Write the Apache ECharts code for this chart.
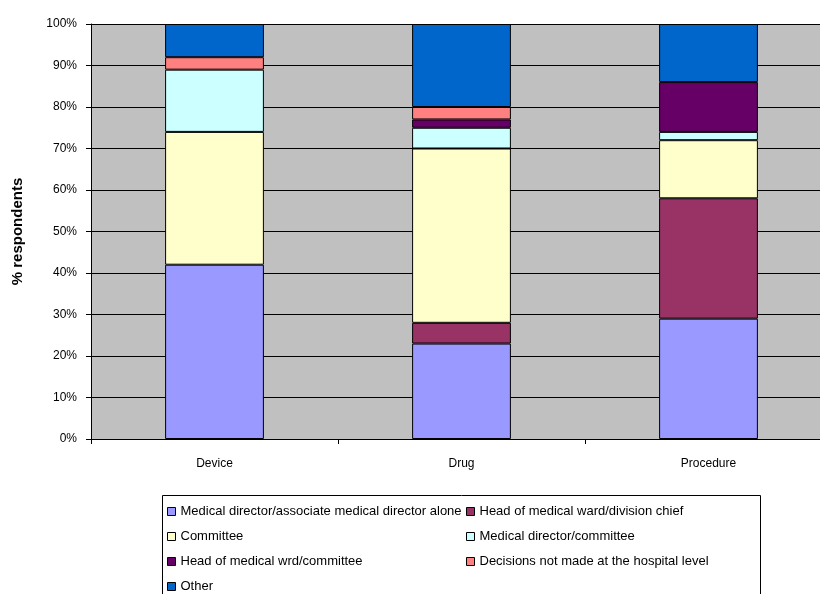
<!DOCTYPE html>
<html>
<head>
<meta charset="utf-8">
<script src="https://cdn.jsdelivr.net/npm/echarts@6/dist/echarts.min.js"></script>
<style>
html,body{margin:0;padding:0;background:#fff;}
#c{width:820px;height:594px;}
</style>
</head>
<body>
<div id="c"></div>
<script>
var categories = ['Device', 'Drug', 'Procedure'];
var seriesNames = [
  'Medical director/associate medical director alone',
  'Head of medical ward/division chief',
  'Committee',
  'Medical director/committee',
  'Head of medical wrd/committee',
  'Decisions not made at the hospital level',
  'Other'
];
var mdAlone = [42, 23, 29];
var headWard = [0, 5, 29];
var committee = [32, 42, 14];
var mdCommittee = [15, 5, 2];
var headCommittee = [0, 2, 12];
var notHospital = [3, 3, 0];
var other = [8, 20, 14];
var yTicks = [0, 10, 20, 30, 40, 50, 60, 70, 80, 90, 100];

var colors = ['#9999FF', '#993366', '#FFFFCC', '#CCFFFF', '#660066', '#FF8080', '#0066CC'];
var values = [mdAlone, headWard, committee, mdCommittee, headCommittee, notHospital, other];

var series = seriesNames.map(function (n, i) {
  return {
    name: n,
    type: 'bar',
    stack: 'total',
    barWidth: '40%',
    data: values[i].map(function (v) { return v === 0 ? '-' : v; }),
    itemStyle: { color: colors[i], borderColor: '#000', borderWidth: 1 },
    emphasis: { disabled: true }
  };
});

var legendText = { fontFamily: 'Liberation Sans', fontSize: 13, color: '#000' };
function mkLegend(left, top, names) {
  return {
    orient: 'vertical',
    left: left,
    top: top,
    itemWidth: 8,
    itemHeight: 8,
    itemGap: 12,
    icon: 'rect',
    itemStyle: { borderColor: '#000', borderWidth: 1 },
    textStyle: legendText,
    selectedMode: false,
    padding: 0,
    data: names
  };
}

var chart = echarts.init(document.getElementById('c'), null, { renderer: 'canvas' });
chart.setOption({
  animation: false,
  color: colors,
  textStyle: { fontFamily: 'Liberation Sans' },
  grid: {
    left: 91, width: 741, top: 24, height: 415,
    outerBoundsMode: 'none', containLabel: false,
    show: true, backgroundColor: '#C0C0C0', borderWidth: 0
  },
  xAxis: {
    type: 'category',
    data: categories,
    axisLine: { show: true, lineStyle: { color: '#000', width: 1 } },
    axisTick: { show: true, alignWithLabel: false, length: 5, lineStyle: { color: '#000' } },
    axisLabel: { fontSize: 12, color: '#000', margin: 19, fontFamily: 'Liberation Sans' }
  },
  yAxis: {
    type: 'value',
    min: yTicks[0],
    max: yTicks[yTicks.length - 1],
    interval: 10,
    name: '% respondents',
    nameLocation: 'middle',
    nameGap: 66,
    nameTextStyle: { fontSize: 15, fontWeight: 'bold', color: '#000', fontFamily: 'Liberation Sans' },
    axisLine: { show: true, lineStyle: { color: '#000', width: 1 } },
    axisTick: { show: true, length: 5, lineStyle: { color: '#000' } },
    axisLabel: { formatter: '{value}%', fontSize: 12, color: '#000', margin: 14, fontFamily: 'Liberation Sans' },
    splitLine: { show: true, lineStyle: { color: '#000', width: 1 } }
  },
  legend: [
    mkLegend(167, 505, [seriesNames[0], seriesNames[2], seriesNames[4]]),
    mkLegend(167, 580, [seriesNames[6]]),
    mkLegend(466, 505, [seriesNames[1], seriesNames[3], seriesNames[5]])
  ],
  graphic: [
    {
      type: 'rect',
      left: 160,
      top: 493,
      shape: { width: 598, height: 120 },
      style: { fill: 'none', stroke: '#000', lineWidth: 1 },
      z: -1
    }
  ],
  series: series
});
</script>
</body>
</html>
